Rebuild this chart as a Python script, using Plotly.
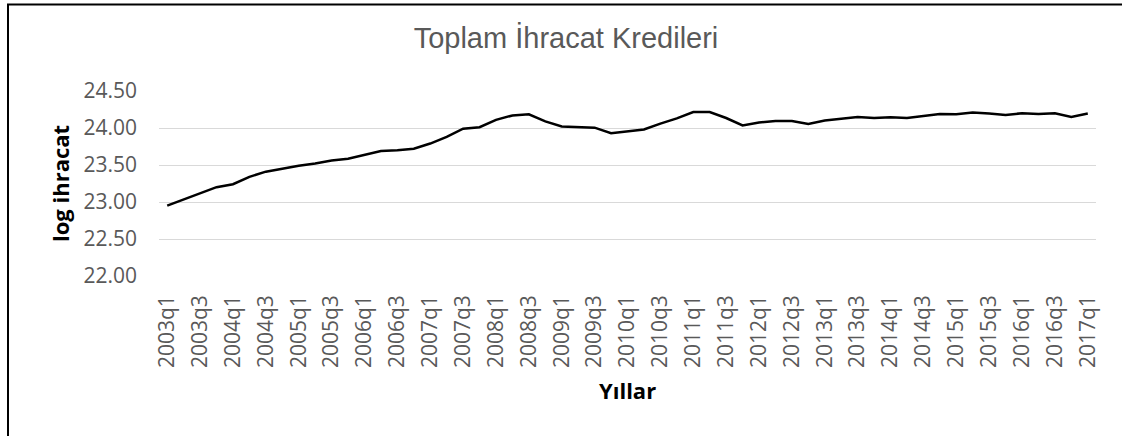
import plotly.graph_objects as go

years = list(range(2003, 2018))
quarters = [f"{y}q{q}" for y in years for q in range(1, 5)][:57]

log_ihracat = [
    22.95, 23.03, 23.12, 23.20, 23.24, 23.34, 23.41, 23.455, 23.49, 23.52,
    23.56, 23.585, 23.64, 23.69, 23.70, 23.72, 23.79, 23.88, 23.99, 24.01,
    24.11, 24.17, 24.185, 24.09, 24.02, 24.01, 24.005, 23.93, 23.955, 23.98,
    24.06, 24.13, 24.215, 24.215, 24.135, 24.035, 24.075, 24.095, 24.095, 24.055,
    24.10, 24.13, 24.15, 24.135, 24.145, 24.135, 24.165, 24.19, 24.185, 24.21,
    24.195, 24.175, 24.20, 24.19, 24.20, 24.15, 24.195,
]

y_ticks = [22.0, 22.5, 23.0, 23.5, 24.0, 24.5]
x_tick_labels = quarters[::2]

title_text = "Toplam İhracat Kredileri"
x_title = "Yıllar"
y_title = "log ihracat"

W, H = 1122, 436
L, R, T, B = 159, 26, 91, 160
pw, ph = W - L - R, H - T - B

def px_x(px):
    return (px - L) / pw

def px_y(py):
    return (H - B - py) / ph

fig = go.Figure()
fig.add_trace(go.Scatter(
    x=quarters, y=log_ihracat, mode="lines",
    line=dict(color="#000000", width=2.5),
    hoverinfo="x+y", showlegend=False,
))

tick_font = dict(family="Open Sans", size=21, color="#595959")

fig.update_layout(
    width=W, height=H,
    margin=dict(l=L, r=R, t=T, b=B, pad=0),
    paper_bgcolor="white", plot_bgcolor="white",
    title=dict(
        text=title_text, xref="container", x=566 / W, xanchor="center",
        yref="container", y=1 - 38 / H, yanchor="middle",
        font=dict(family="Liberation Sans", size=29, color="#595959"),
    ),
    xaxis=dict(
        type="category", categoryorder="array", categoryarray=quarters,
        tickmode="array", tickvals=x_tick_labels, ticktext=x_tick_labels,
        tickangle=-90, tickfont=tick_font, showgrid=False,
        showline=False, zeroline=False, ticks="", ticklabelstandoff=14,
        range=[-0.5, len(quarters) - 0.5],
    ),
    yaxis=dict(
        range=[22.0, 24.5], tickmode="array", tickvals=y_ticks,
        ticktext=[f"{v:.2f}" for v in y_ticks], tickfont=tick_font,
        showgrid=True, gridcolor="#d9d9d9", gridwidth=1.3,
        zeroline=False, showline=False, ticks="", ticklabelstandoff=21,
    ),
    annotations=[
        dict(text=f"<b>{x_title}</b>", xref="paper", yref="paper",
             x=0.5, y=px_y(390), xanchor="center", yanchor="middle",
             showarrow=False, font=dict(family="Open Sans", size=22, color="#000000")),
        dict(text=f"<b>{y_title}</b>", xref="paper", yref="paper",
             x=px_x(60), y=px_y(184), xanchor="center", yanchor="middle",
             textangle=-90, showarrow=False,
             font=dict(family="Open Sans", size=22, color="#000000")),
    ],
    shapes=[
        dict(type="line", xref="paper", yref="paper",
             x0=px_x(8), x1=px_x(8), y0=px_y(4), y1=px_y(436),
             line=dict(color="#000000", width=2)),
        dict(type="line", xref="paper", yref="paper",
             x0=px_x(7), x1=px_x(1122), y0=px_y(4.5), y1=px_y(4.5),
             line=dict(color="#000000", width=2)),
    ],
)

fig.write_html(
    "out.html",
    config={"displayModeBar": False},
    post_script="document.body.style.margin='0';document.body.style.overflow='hidden';",
)
